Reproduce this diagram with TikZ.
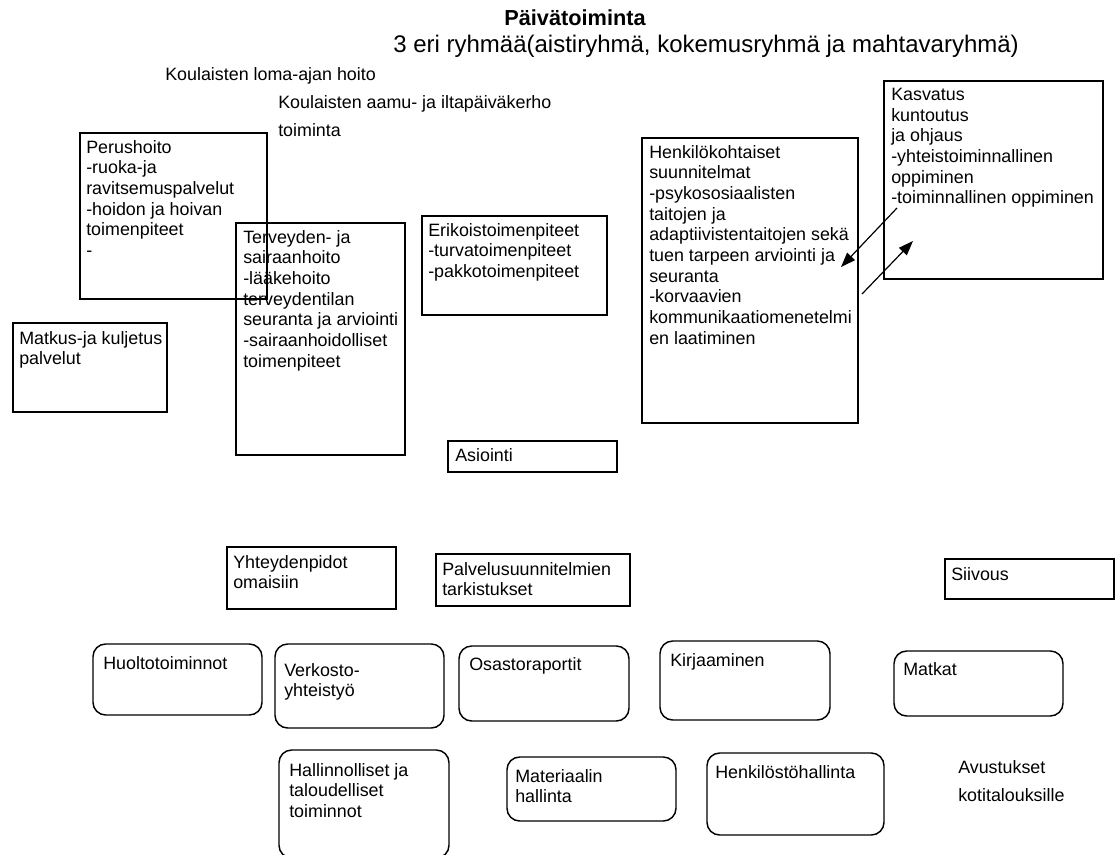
\documentclass[tikz,border=0pt]{standalone}
\usepackage{fontspec}
\setmainfont{Liberation Sans}
\usetikzlibrary{arrows.meta}

\begin{document}
\begin{tikzpicture}[x=0.75pt,y=0.75pt,yscale=-1,xscale=1,
  box/.style={line width=1.1pt},
  rbox/.style={line width=1.1pt,rounded corners=9.5pt},
  txt/.style={anchor=north west,inner sep=0.75pt,align=left,font=\fontsize{13.4pt}{15.5pt}\selectfont},
  loose/.style={txt,font=\fontsize{13.4pt}{21pt}\selectfont},
  arr/.style={line width=0.9pt,-{Triangle[length=11pt,width=8pt]}}]

\useasboundingbox (0,0) rectangle (1117,854);

\draw (575,25) node [anchor=base,inner sep=0.75pt,font=\bfseries\fontsize{16.3pt}{19pt}\selectfont] (titolo) {Päivätoiminta};
\draw (392,52) node [anchor=base west,inner sep=0.75pt,font=\fontsize{18pt}{21pt}\selectfont] (ryhmat) {3 eri ryhmää(aistiryhmä, kokemusryhmä ja mahtavaryhmä)};

\draw (164,66) node [txt] (loma) {Koulaisten loma-ajan hoito};
\draw (277,94) node [loose] (kerho) {Koulaisten aamu- ja iltapäiväkerho\\toiminta};

\draw [box]  (80,133) -- (267,133) -- (267,299) -- (80,299) -- cycle ;
\draw [box]  (236,223) -- (405,223) -- (405,455) -- (236,455) -- cycle ;
\draw [box]  (422,216) -- (607,216) -- (607,315) -- (422,315) -- cycle ;
\draw [box]  (13,323) -- (167,323) -- (167,412) -- (13,412) -- cycle ;
\draw [box]  (448,441) -- (617,441) -- (617,472) -- (448,472) -- cycle ;
\draw [box]  (642,138) -- (858,138) -- (858,423) -- (642,423) -- cycle ;
\draw [box]  (884,81) -- (1103,81) -- (1103,279) -- (884,279) -- cycle ;

\draw [box]  (227,547) -- (396,547) -- (396,609) -- (227,609) -- cycle ;
\draw [box]  (436,554) -- (630,554) -- (630,606) -- (436,606) -- cycle ;
\draw [box]  (945,559) -- (1114,559) -- (1114,599) -- (945,599) -- cycle ;

\draw [rbox] (93,644) rectangle (262,715) ;
\draw [rbox] (275,644) rectangle (444,728) ;
\draw [rbox] (459,646) rectangle (629,721) ;
\draw [rbox] (660,641) rectangle (830,720) ;
\draw [rbox] (894,651) rectangle (1063,716) ;
\draw [rbox] (279,750) rectangle (449,858) ;
\draw [rbox] (507,757) rectangle (676,821) ;
\draw [rbox] (707,753) rectangle (884,835) ;

\draw (85,139) node [txt] (perushoito) {Perushoito\\-ruoka-ja\\ravitsemuspalvelut\\-hoidon ja hoivan\\toimenpiteet\\-};
\draw (242,229) node [txt] (terveys) {Terveyden- ja\\sairaanhoito\\-lääkehoito\\terveydentilan\\seuranta ja arviointi\\-sairaanhoidolliset\\toimenpiteet};
\draw (427,222) node [txt] (erikois) {Erikoistoimenpiteet\\-turvatoimenpiteet\\-pakkotoimenpiteet};
\draw (18,330) node [txt] (kuljetus) {Matkus-ja kuljetus\\palvelut};
\draw (454,447) node [txt] (asiointi) {Asiointi};
\draw (648,144) node [txt] (suunnitelmat) {Henkilökohtaiset\\suunnitelmat\\-psykososiaalisten\\taitojen ja\\adaptiivistentaitojen sekä\\tuen tarpeen arviointi ja\\seuranta\\-korvaavien\\kommunikaatiomenetelmi\\en laatiminen};
\draw (890,87) node [txt] (kasvatus) {Kasvatus\\kuntoutus\\ja ohjaus\\-yhteistoiminnallinen\\oppiminen\\-toiminnallinen oppiminen};

\draw (232,554) node [txt] (omaiset) {Yhteydenpidot\\omaisiin};
\draw (441,561) node [txt] (tarkistukset) {Palvelusuunnitelmien\\tarkistukset};
\draw (950,566) node [txt] (siivous) {Siivous};

\draw (102,655) node [txt] (huolto) {Huoltotoiminnot};
\draw (283,662) node [txt] (verkosto) {Verkosto-\\yhteistyö};
\draw (468,656) node [txt] (raportit) {Osastoraportit};
\draw (669,652) node [txt] (kirjaaminen) {Kirjaaminen};
\draw (902,661) node [txt] (matkat) {Matkat};
\draw (288,762) node [txt] (hallinto) {Hallinnolliset ja\\taloudelliset\\toiminnot};
\draw (514,768) node [txt] (materiaali) {Materiaalin\\hallinta};
\draw (714,764) node [txt] (henkilosto) {Henkilöstöhallinta};
\draw (957,759) node [loose] (avustukset) {Avustukset\\kotitalouksille};

\coordinate (kasvatusUlos) at (897,208);
\coordinate (suunnitelmatSisaan) at (841,267);
\coordinate (suunnitelmatUlos) at (862,294);
\coordinate (kasvatusSisaan) at (913,241);

\draw [arr] (kasvatusUlos) -- (suunnitelmatSisaan) ;
\draw [arr] (suunnitelmatUlos) -- (kasvatusSisaan) ;

\end{tikzpicture}
\end{document}
